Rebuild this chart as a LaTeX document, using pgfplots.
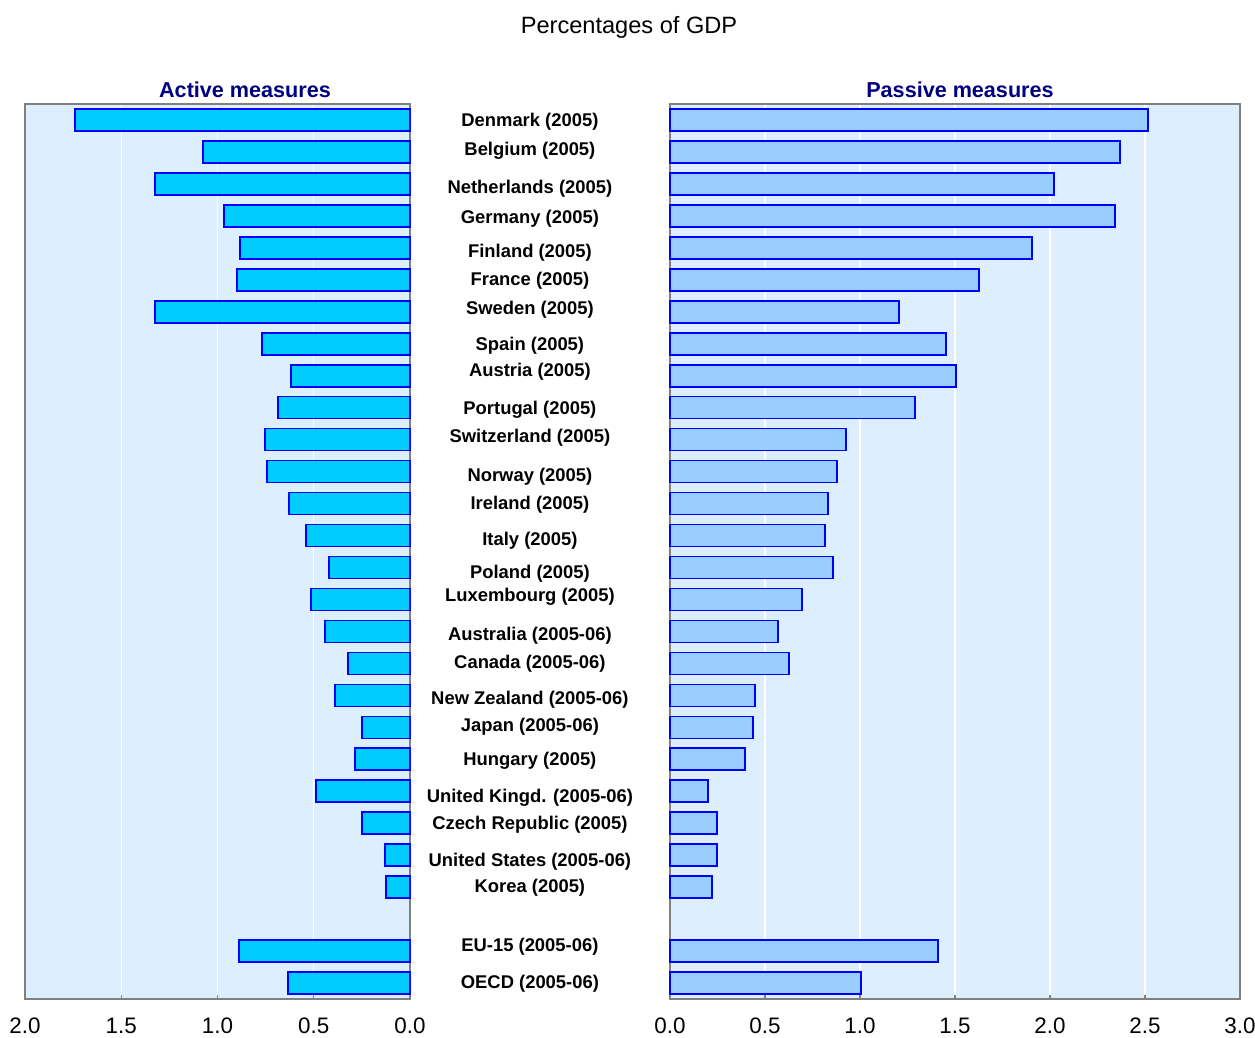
\documentclass[border=0pt]{standalone}
\usepackage{pgfplots}
\usepackage{pgfplotstable}
\pgfplotsset{compat=1.18}
\usepackage{fontspec}
\setmainfont{Liberation Sans}
\definecolor{bgc}{RGB}{221,239,255}
\definecolor{actc}{RGB}{0,204,255}
\definecolor{pasc}{RGB}{153,204,255}
\definecolor{edgec}{RGB}{0,0,255}
\definecolor{navy}{RGB}{0,0,128}
\definecolor{framec}{RGB}{128,128,128}

\pgfplotstableread{
row active passive
1  1.74  2.516
2  1.075 2.368
3  1.325 2.021
4  0.966 2.342
5  0.883 1.905
6  0.899 1.626
7  1.325 1.205
8  0.769 1.453
9  0.618 1.505
10 0.686 1.289
11 0.753 0.926
12 0.743 0.879
13 0.629 0.832
14 0.540 0.816
15 0.421 0.858
16 0.514 0.695
17 0.442 0.568
18 0.322 0.626
19 0.390 0.447
20 0.249 0.437
21 0.286 0.395
22 0.488 0.200
23 0.249 0.247
24 0.130 0.247
25 0.125 0.221
27 0.888 1.411
28 0.634 1.005
}\datatable

\pgfplotsset{
  panel/.style={
    scale only axis,
    height=447.5pt,
    anchor=south west,
    y dir=reverse,
    ymin=0.5, ymax=28.5,
    ytick=\empty,
    axis background/.style={fill=bgc},
    axis line style={framec, line width=1pt},
    xmajorgrids,
    major grid style={white, line width=0.6pt},
    xtick pos=bottom,
    tick align=inside,
    major tick length=2pt,
    every tick/.style={framec, line width=0.6pt},
    xticklabel style={font=\fontsize{11.2}{13}\selectfont, yshift=-6pt},
    /pgf/number format/.cd, fixed, fixed zerofill, precision=1, assume math mode=true,
    /pgfplots/.cd,
    xbar, bar width=11pt, bar shift=0pt,
    clip=false,
  }
}

\begin{document}
\begin{tikzpicture}
\useasboundingbox (0,0) rectangle (627.5pt,-519pt);
\node[anchor=base, font=\fontsize{11.8}{13}\selectfont] at (314.5pt,-17pt) {Percentages of GDP};
\node[anchor=base, font=\bfseries\fontsize{10.8}{12}\selectfont, text=navy] at (122.5pt,-49pt) {Active measures};
\node[anchor=base, font=\bfseries\fontsize{10.8}{12}\selectfont, text=navy] at (480pt,-49pt) {Passive measures};

\begin{axis}[panel, at={(12.5pt,-499.5pt)}, width=192.5pt,
  x dir=reverse, xmin=0, xmax=2, xtick={0,0.5,1,1.5,2}]
\addplot[fill=actc, draw=edgec, line width=0.8pt] table[x=active, y=row] {\datatable};
\begin{scope}[every node/.style={font=\bfseries\fontsize{9.2}{11}\selectfont, anchor=center, inner sep=0pt, yshift=-0.5pt}]
\node at (axis cs:-0.623,1.03) {Denmark (2005)};
\node at (axis cs:-0.623,1.94) {Belgium (2005)};
\node at (axis cs:-0.623,3.12) {Netherlands (2005)};
\node at (axis cs:-0.623,4.06) {Germany (2005)};
\node at (axis cs:-0.623,5.12) {Finland (2005)};
\node at (axis cs:-0.623,6.0) {France (2005)};
\node at (axis cs:-0.623,6.9) {Sweden (2005)};
\node at (axis cs:-0.623,8.03) {Spain (2005)};
\node at (axis cs:-0.623,8.84) {Austria (2005)};
\node at (axis cs:-0.623,10.03) {Portugal (2005)};
\node at (axis cs:-0.623,10.9) {Switzerland (2005)};
\node at (axis cs:-0.623,12.12) {Norway (2005)};
\node at (axis cs:-0.623,13.0) {Ireland (2005)};
\node at (axis cs:-0.623,14.12) {Italy (2005)};
\node at (axis cs:-0.623,15.16) {Poland (2005)};
\node at (axis cs:-0.623,15.9) {Luxembourg (2005)};
\node at (axis cs:-0.623,17.1) {Australia (2005-06)};
\node at (axis cs:-0.623,17.97) {Canada (2005-06)};
\node at (axis cs:-0.623,19.1) {New Zealand (2005-06)};
\node at (axis cs:-0.623,19.94) {Japan (2005-06)};
\node at (axis cs:-0.623,21.03) {Hungary (2005)};
\node at (axis cs:-0.623,22.16) {United Kingd. (2005-06)};
\node at (axis cs:-0.623,23.03) {Czech Republic (2005)};
\node at (axis cs:-0.623,24.16) {United States (2005-06)};
\node at (axis cs:-0.623,25.0) {Korea (2005)};
\node at (axis cs:-0.623,26.84) {EU-15 (2005-06)};
\node at (axis cs:-0.623,28.0) {OECD (2005-06)};
\end{scope}
\end{axis}

\begin{axis}[panel, at={(335pt,-499.5pt)}, width=285pt,
  xmin=0, xmax=3, xtick={0,0.5,1,1.5,2,2.5,3}]
\addplot[fill=pasc, draw=edgec, line width=0.8pt] table[x=passive, y=row] {\datatable};
\end{axis}
\end{tikzpicture}
\end{document}
